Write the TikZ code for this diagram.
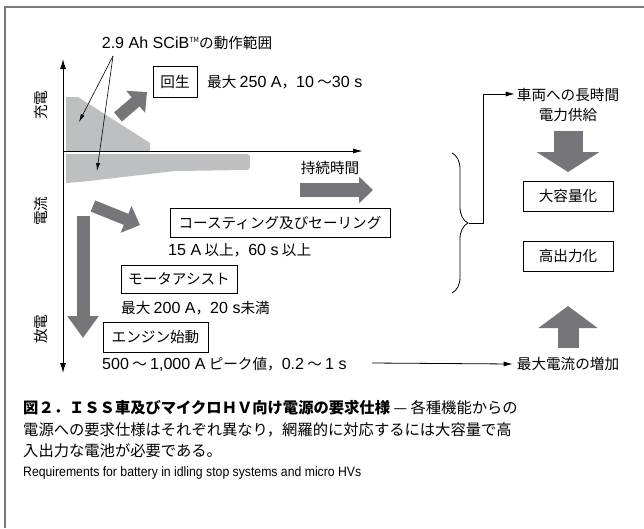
\documentclass[tikz,border=0pt]{standalone}
\usepackage{fontspec}
\setmainfont{Noto Sans CJK JP}
\newfontfamily\engfont[FakeStretch=0.9]{Liberation Sans}
\newfontfamily\hvfont[Scale=1.1]{Liberation Sans}
\newcommand\lt[1]{{\hvfont #1}}
\usetikzlibrary{arrows.meta,decorations.pathreplacing}
\definecolor{lightg}{HTML}{BEBFC1}
\definecolor{darkg}{HTML}{76767A}
\definecolor{framec}{HTML}{7A7A7A}
\tikzset{
  lbl/.style={font=\fontsize{14.6}{17}\selectfont, inner sep=0pt},
  boxed/.style={lbl, draw=black, line width=0.7pt, minimum height=29pt},
  vlbl/.style={lbl, rotate=90},
  thin arrow/.style={line width=0.6pt, -{Latex[length=8pt,width=4pt]}},
  axis/.style={line width=1pt},
  bigarrow/.style={draw=darkg, fill=darkg, line width=#1},
  captxt/.style={anchor=west, inner sep=0pt, font=\fontsize{15.3}{18}\selectfont},
}
\begin{document}
\begin{tikzpicture}[x=1pt,y=-1pt]
\useasboundingbox (0,0) rectangle (644,528);
% frame
\draw[framec, line width=1.3pt] (5,528) -- (5,7) -- (644,7);

% gray operating regions
\fill[lightg] (66,97) -- (78,97) -- (150,143) -- (150,151) -- (66,151) -- cycle;
\fill[lightg] (66,154) -- (247,154) to[out=0,in=90] (250,157) -- (250,167)
   to[out=-90,in=0] (247,170) -- (175,171) -- (80,182) -- (66,183) -- cycle;

% axes
\coordinate (axtop) at (63,59);
\coordinate (axbot) at (63,373);
\coordinate (axorig) at (63,151);
\coordinate (axright) at (363,151);
\draw[axis, {Latex[length=10pt,width=6pt]}-{Latex[length=10pt,width=6pt]}] (axtop) -- (axbot);
\draw[axis, -{Latex[length=10pt,width=5pt]}] (axorig) -- (axright);

% axis labels
\node[vlbl] (lcharge) at (41,105) {充電};
\node[vlbl] (lcurrent) at (41,211) {電流};
\node[vlbl] (ldis) at (41,329) {放電};
\node[lbl] (ldur) at (330,168) {持続時間};

% SCiB label and pointer arrows
\node[lbl] (scib) at (187,43) {\lt{2.9 Ah SCiB}{\fontsize{7}{7}\selectfont\raisebox{6pt}{TM}}の動作範囲};
\coordinate (scibp) at (113,56);
\coordinate (pA) at (79,122);
\coordinate (pB) at (97,171);
\draw[thin arrow] (scibp) -- (pA);
\draw[thin arrow] (scibp) -- (pB);

% big gray arrows
\coordinate (regA) at (118,117);
\coordinate (regB) at (147,92);
\draw[bigarrow=12pt, -{Triangle[length=15pt,width=28pt]}] (regA) -- (regB);
\coordinate (coA) at (93,206);
\coordinate (coB) at (140,225);
\draw[bigarrow=12pt, -{Triangle[length=15pt,width=28pt]}] (coA) -- (coB);
\coordinate (dnA) at (83,216);
\coordinate (dnB) at (83,338);
\draw[bigarrow=13pt, -{Triangle[length=22pt,width=30pt]}] (dnA) -- (dnB);
\coordinate (durA) at (300,190);
\coordinate (durB) at (373,190);
\draw[bigarrow=14pt, -{Triangle[length=14pt,width=26pt]}] (durA) -- (durB);
\coordinate (capA) at (568,131);
\coordinate (capB) at (568,172);
\draw[bigarrow=29pt, -{Triangle[length=20pt,width=62pt]}] (capA) -- (capB);
\coordinate (upA) at (568,348);
\coordinate (upB) at (568,306);
\draw[bigarrow=21pt, -{Triangle[length=22pt,width=58pt]}] (upA) -- (upB);

% function boxes and specs
\node[boxed, minimum width=44pt, minimum height=31pt] (regen) at (175,81.5) {回生};
\node[lbl, anchor=west] (regenspec) at (207,82) {最大 \lt{250 A}，\lt{10} ～\lt{30 s}};
\node[boxed, minimum width=220pt] (coast) at (280,222.5) {コースティング及びセーリング};
\node[lbl, anchor=west] (coastspec) at (168,250) {\lt{15 A} 以上，\lt{60 s} 以上};
\node[boxed, minimum width=116pt, minimum height=28pt] (assist) at (179,279) {モータアシスト};
\node[lbl, anchor=west] (assistspec) at (121,308) {最大 \lt{200 A}，\lt{20 s}未満};
\node[boxed, minimum width=105pt, minimum height=30pt] (start) at (155.5,337) {エンジン始動};
\node[lbl, anchor=west] (startspec) at (102,364) {\lt{500} ～ \lt{1,000 A} ピーク値，\lt{0.2} ～ \lt{1 s}};

% right side
\node[lbl, align=center] (supply) at (568,104.5) {車両への長時間\\[3pt]電力供給};
\node[boxed, minimum width=90pt, minimum height=30pt] (cap) at (568,196) {大容量化};
\node[boxed, minimum width=90pt, minimum height=30pt] (pow) at (568,256) {高出力化};
\node[lbl] (maxcur) at (568,364) {最大電流の増加};

% brace and connectors
\draw[line width=0.8pt, decorate, decoration={brace, amplitude=16pt}] (452,153) -- (452,293);
\coordinate (braceTip) at (469,223);
\coordinate (bend) at (483,223);
\draw[line width=0.8pt, -{Latex[length=9pt,width=5pt]}] (braceTip) -- (bend) |- ([xshift=-2pt]supply.west |- 0,94);
\coordinate (lineA) at (372,363);
\draw[line width=0.8pt, -{Latex[length=9pt,width=5pt]}] (lineA) -- ([xshift=-4pt]maxcur.west);

% caption
\node[captxt] (cap1) at (23,408)
  {\textbf{図２．ＩＳＳ車及びマイクロＨＶ向け電源の要求仕様} — 各種機能からの};
\node[captxt] (cap2) at (23,430)
  {電源への要求仕様はそれぞれ異なり，網羅的に対応するには大容量で高};
\node[captxt] (cap3) at (23,451)
  {入出力な電池が必要である。};
\node[anchor=west, inner sep=0pt, font=\engfont\fontsize{13.6}{15}\selectfont] (capen) at (23,473)
  {Requirements for battery in idling stop systems and micro HVs};
\end{tikzpicture}
\end{document}
